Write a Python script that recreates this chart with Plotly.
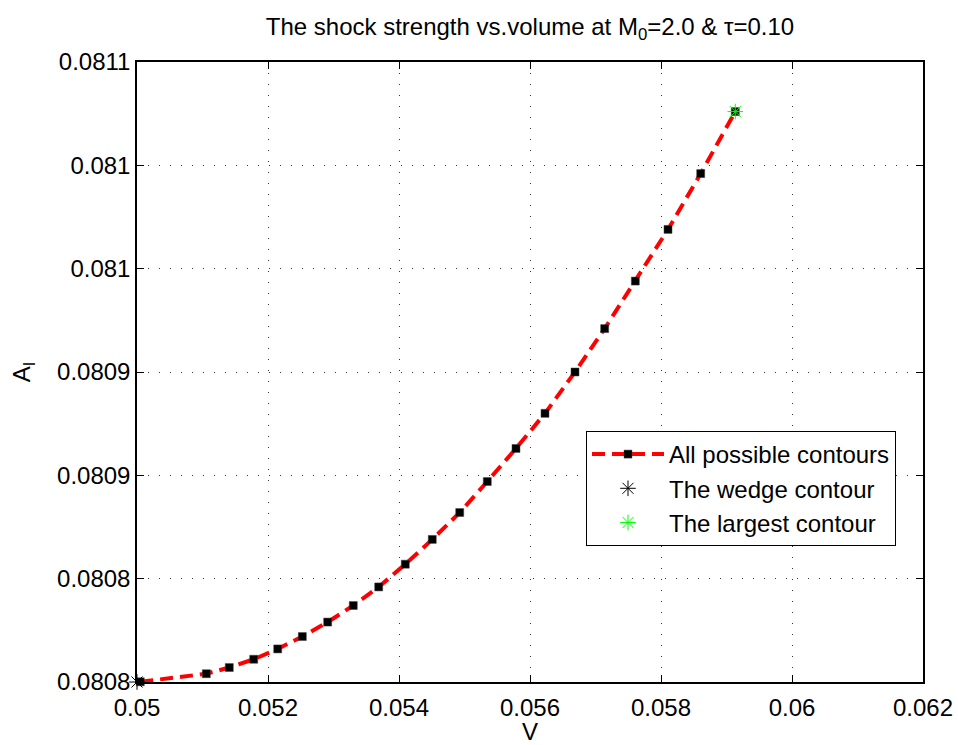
import plotly.graph_objects as go

# Data
V = [0.05005, 0.051058, 0.051409, 0.051782, 0.052148, 0.052524, 0.052911,
     0.053302, 0.053690, 0.054096, 0.054508, 0.054927, 0.055348, 0.055786,
     0.056229, 0.056687, 0.057140, 0.057608, 0.058107, 0.058606, 0.059134]
A = [0.0807501, 0.080754, 0.080757, 0.080761, 0.080766, 0.080772, 0.080779,
     0.080787, 0.080796, 0.080807, 0.080819, 0.080832, 0.080847, 0.080863,
     0.080880, 0.080900, 0.080921, 0.080944, 0.080969, 0.080996, 0.081026]
wedge_V = [0.05]
wedge_A = [0.08075]
largest_V = [0.059134]
largest_A = [0.081026]

x_ticks = [0.05, 0.052, 0.054, 0.056, 0.058, 0.06, 0.062]
x_ticktext = ["0.05", "0.052", "0.054", "0.056", "0.058", "0.06", "0.062"]
y_ticks = [0.08075, 0.0808, 0.08085, 0.0809, 0.08095, 0.081, 0.08105]
y_ticktext = ["0.0808", "0.0808", "0.0809", "0.0809", "0.081", "0.081", "0.0811"]

FONT = "Liberation Sans, Arial, sans-serif"
FS = 24

fig = go.Figure()
fig.add_trace(go.Scatter(
    x=V, y=A, mode="lines+markers", name="All possible contours",
    line=dict(color="red", width=4, dash="13px,7px"),
    marker=dict(symbol="square", size=8, color="black",
                line=dict(color="#444", width=0.5)),
    cliponaxis=False))
fig.add_trace(go.Scatter(
    x=wedge_V, y=wedge_A, mode="markers", name="The wedge contour",
    marker=dict(symbol="asterisk-open", size=13, color="black",
                line=dict(color="black", width=1)),
    cliponaxis=False))
fig.add_trace(go.Scatter(
    x=largest_V, y=largest_A, mode="markers", name="The largest contour",
    marker=dict(symbol="asterisk-open", size=13, color="#00ff00",
                line=dict(color="#00ff00", width=1)),
    cliponaxis=False))

axis_common = dict(
    showline=True, linecolor="black", linewidth=1.5, mirror="ticks",
    ticks="inside", ticklen=7, tickcolor="black", tickwidth=1,
    showgrid=True, gridcolor="#333", gridwidth=1, griddash="1px,10px",
    zeroline=False, automargin=False,
    tickfont=dict(family=FONT, size=FS, color="black"),
)

fig.update_layout(
    width=958, height=745,
    margin=dict(l=137, r=35, t=62, b=63),
    paper_bgcolor="white", plot_bgcolor="white",
    font=dict(family=FONT, color="black"),
    title=dict(text="The shock strength vs.volume at M<sub>0</sub>=2.0 &amp; τ=0.10",
               x=(137 + 923) / 2 / 958, xanchor="center",
               y=1 - 27 / 745, yanchor="middle", yref="container",
               font=dict(family=FONT, size=FS, color="black")),
    xaxis=dict(range=[0.05, 0.062], tickvals=x_ticks, ticktext=x_ticktext,
               ticklabelstandoff=3,
               title=dict(text="V", font=dict(family=FONT, size=FS), standoff=4),
               **axis_common),
    yaxis=dict(range=[0.08075, 0.08105], tickvals=y_ticks, ticktext=y_ticktext,
               title=dict(text="A<sub>I</sub>", font=dict(family=FONT, size=FS), standoff=20),
               **axis_common),
    legend=dict(x=(896 - 137) / 786, xanchor="right",
                y=(682 - 431) / 620, yanchor="top",
                bgcolor="white", bordercolor="black", borderwidth=1,
                font=dict(family=FONT, size=FS, color="black"),
                itemwidth=72, tracegroupgap=0),
    showlegend=True,
)

fig.write_html("out.html")
